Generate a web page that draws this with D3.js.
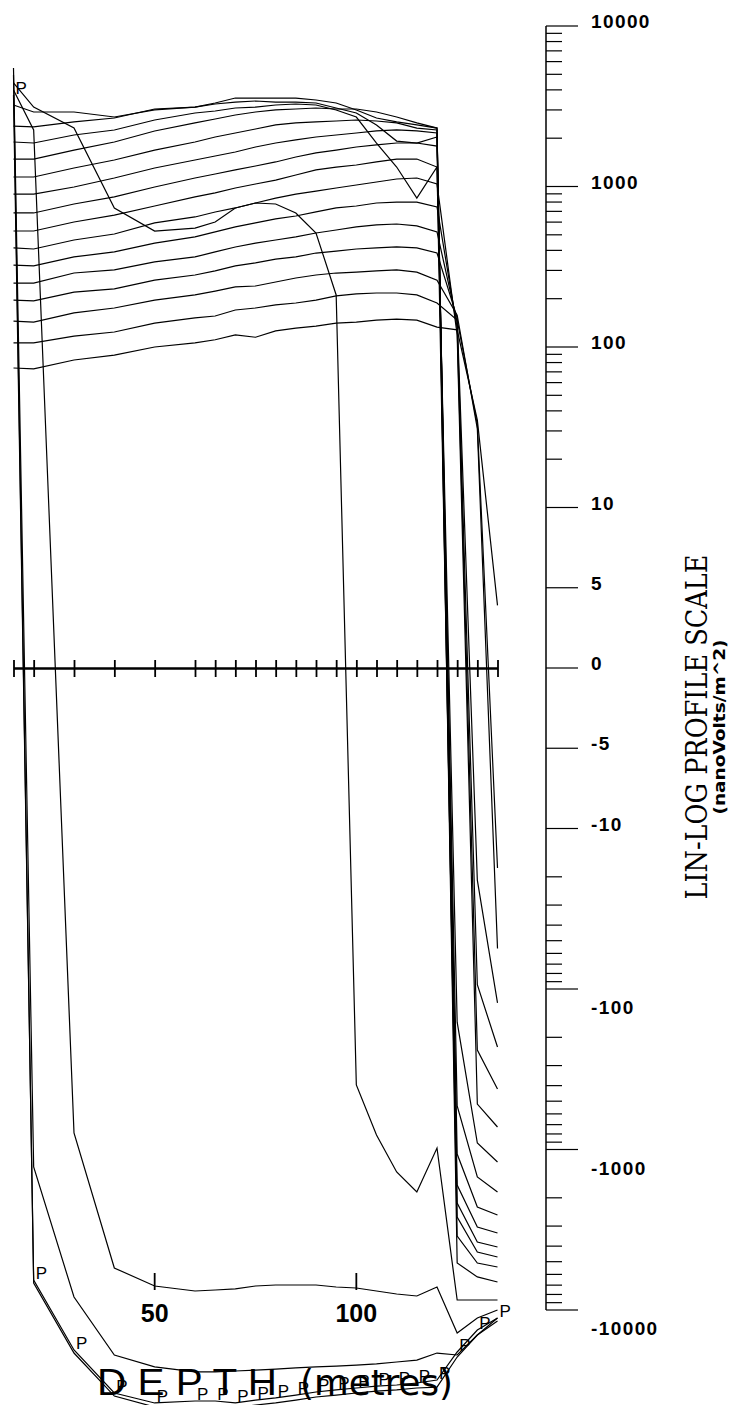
<!DOCTYPE html>
<html>
<head>
<meta charset="utf-8">
<script src="https://cdn.jsdelivr.net/npm/d3@7"></script>
<style>
  body { margin: 0; background: #fff; }
  svg { display: block; }
</style>
</head>
<body>
<svg id="chart" width="730" height="1405"></svg>
<script>
// station depths (metres) along the profile
const stations = [15, 20, 30, 40, 50, 60, 65, 70, 75, 80, 85, 90, 95, 100, 105, 110, 115, 120, 125, 130, 135];

// channel profiles, nanoVolts/m^2, one value per station
const ch01 = [74, 73, 83, 89, 100, 106, 111, 119, 115, 126, 131, 135, 141, 143, 147, 149, 147, 133, 128, 35, 3.9];
const ch02 = [106, 106, 117, 124, 141, 152, 156, 170, 175, 183, 188, 196, 208, 214, 217, 217, 211, 188, 147, 33, -17.6];
const ch03 = [145, 143, 163, 175, 196, 211, 223, 237, 240, 254, 269, 281, 289, 293, 298, 302, 293, 261, 158, 31, -56];
const ch04 = [196, 194, 220, 230, 261, 281, 298, 320, 334, 353, 364, 385, 396, 408, 414, 420, 414, 385, 152, -21, -122];
const ch05 = [250, 250, 289, 302, 339, 364, 391, 420, 444, 464, 485, 513, 536, 560, 576, 584, 568, 521, 143, -94, -230];
const ch06 = [324, 320, 364, 391, 444, 485, 521, 560, 593, 628, 655, 694, 735, 756, 789, 800, 800, 745, 131, -240, -420];
const ch07 = [414, 408, 464, 506, 593, 646, 694, 735, 789, 847, 897, 937, 979, 1022, 1067, 1114, 1130, 1037, 119, -521, -724];
const ch08 = [528, 528, 601, 664, 756, 861, 912, 979, 1037, 1097, 1180, 1268, 1322, 1361, 1422, 1483, 1483, 1322, -161, -911, -1196];
const ch09 = [684, 684, 778, 861, 993, 1130, 1196, 1268, 1342, 1422, 1527, 1618, 1687, 1762, 1815, 1866, 1866, 1787, -536, -1483, -1840];
const ch10 = [897, 897, 993, 1130, 1304, 1462, 1549, 1641, 1762, 1866, 1950, 2034, 2094, 2155, 2218, 2250, 2218, 2155, -1067, -2282, -2558];
const ch11 = [1146, 1146, 1304, 1462, 1687, 1893, 2034, 2155, 2282, 2418, 2489, 2525, 2560, 2596, 2560, 2489, 2313, 2250, -1665, -3040, -3313];
const ch12 = [1483, 1483, 1687, 1893, 2218, 2489, 2634, 2788, 2912, 2998, 3040, 3083, 3040, 3040, 2912, 2710, 2489, 2313, -2155, -3770, -4050];
const ch13 = [1893, 1866, 2094, 2250, 2596, 2870, 2953, 3083, 3127, 3219, 3265, 3219, 2998, 2710, 1866, 1322, 847, 1322, -2634, -4351, -4677];
const ch14 = [2381, 2350, 2525, 2672, 3040, 3127, 3265, 3358, 3410, 3358, 3358, 3313, 3083, 2870, 2418, 1919, 1866, 2034, -3460, -5095, -5395];
const ch15 = [3219, 2912, 2912, 2710, 2998, 3127, 3313, 3558, 3558, 3558, 3558, 3460, 3313, 2998, 2672, 2525, 2418, 2313, -5095, -6223, -6692];
const ch16 = [4416, 3127, 2313, 735, 528, 551, 601, 735, 789, 778, 684, 513, 211, -396, -812, -1380, -1840, -979, -8665, -8665, -8665];
const ch17 = [3993, 2250, -789, -5475, -7087, -7614, -7505, -7395, -7087, -6985, -6985, -6985, -7190, -7295, -7614, -7950, -8180, -7190, -13900, -11220, -10000];
const ch18 = [5475, -1285, -8300, -19070, -22630, -24320, -24320, -23990, -23660, -23340, -22970, -22630, -22340, -22030, -21690, -21090, -20510, -18540, -19070, -14320, -11220];
const ch19 = [4955, -6790, -18540, -34360, -40200, -42000, -42000, -40800, -39080, -37950, -36390, -34830, -33870, -32890, -31990, -31490, -30610, -30200, -19630, -14320, -11720];
const chP = [3715, -6500, -17740, -32890, -37950, -36900, -36900, -37950, -36390, -35320, -33870, -32440, -31490, -30610, -29770, -29330, -28510, -27300, -18260, -13330, -11220];

const profiles = [ch01, ch02, ch03, ch04, ch05, ch06, ch07, ch08, ch09, ch10,
  ch11, ch12, ch13, ch14, ch15, ch16, ch17, ch18, ch19, chP];

// scale labels and depth labels
const scaleTicks = [10000, 1000, 100, 10, 5, 0, -5, -10, -100, -1000, -10000];
const minorMults = [2, 3, 4, 5, 6, 7, 8, 9];
const minorDecades = [10, 100, 1000];
const depthTicks = [50, 100];

const svg = d3.select("#chart");

// lin-log transform: linear inside +-10, log10 outside
function linlog(v) {
  const a = Math.abs(v);
  return a <= 10 ? v / 10 : Math.sign(v) * Math.log10(a);
}
const yLin = d3.scaleLinear().domain([-4, 4]).range([1310, 26]);
const y = v => yLin(linlog(v));
const x = d3.scaleLinear().domain([15, 135]).range([13.5, 497.5]);

// profiles
const line = d3.line()
  .x((d, i) => x(stations[i]))
  .y(d => y(d));

svg.append("g")
  .selectAll("path")
  .data(profiles)
  .join("path")
  .attr("d", line)
  .attr("fill", "none")
  .attr("stroke", "#000")
  .attr("stroke-width", 1.2)
  .attr("stroke-linejoin", "miter");

// P markers on the first channel
svg.append("g")
  .selectAll("text")
  .data(chP)
  .join("text")
  .attr("x", (d, i) => x(stations[i]) + 2)
  .attr("y", d => y(d) - 1)
  .attr("font-family", "Liberation Sans, Arial, sans-serif")
  .attr("font-size", 17)
  .attr("fill", "#000")
  .text("P");

// zero line with station ticks crossing it
const y0 = y(0);
const zeroG = svg.append("g").attr("transform", `translate(0,${y0})`);
zeroG.call(d3.axisBottom(x).tickValues(stations).tickSize(9).tickSizeOuter(0).tickFormat(""));
zeroG.append("g").call(d3.axisTop(x).tickValues(stations).tickSize(8).tickSizeOuter(0).tickFormat(""));
zeroG.selectAll("path, line").attr("stroke", "#000").attr("stroke-width", 1.8);

// depth labels near the bottom
const depthG = svg.append("g");
depthG.selectAll("line")
  .data(depthTicks)
  .join("line")
  .attr("x1", d => x(d)).attr("x2", d => x(d))
  .attr("y1", 1273).attr("y2", 1290)
  .attr("stroke", "#000").attr("stroke-width", 1.8);
depthG.selectAll("text")
  .data(depthTicks)
  .join("text")
  .attr("x", d => x(d))
  .attr("y", 1322)
  .attr("text-anchor", "middle")
  .attr("font-family", "Liberation Sans, Arial, sans-serif")
  .attr("font-weight", "bold")
  .attr("font-size", 25)
  .text(d => d);

// lin-log scale on the right
const axisX = 546;
const scaleG = svg.append("g");
scaleG.append("line")
  .attr("x1", axisX).attr("x2", axisX)
  .attr("y1", y(10000)).attr("y2", y(-10000))
  .attr("stroke", "#000").attr("stroke-width", 1.5);

let minorTicks = [];
minorDecades.forEach(dec => minorMults.forEach(m => { minorTicks.push(m * dec); minorTicks.push(-m * dec); }));

scaleG.selectAll("line.minor")
  .data(minorTicks)
  .join("line")
  .attr("class", "minor")
  .attr("x1", axisX).attr("x2", axisX + 16)
  .attr("y1", d => y(d)).attr("y2", d => y(d))
  .attr("stroke", "#000").attr("stroke-width", 1.2);

scaleG.selectAll("line.major")
  .data(scaleTicks)
  .join("line")
  .attr("class", "major")
  .attr("x1", axisX).attr("x2", axisX + 32)
  .attr("y1", d => y(d)).attr("y2", d => y(d))
  .attr("stroke", "#000").attr("stroke-width", 1.2);

scaleG.selectAll("text")
  .data(scaleTicks)
  .join("text")
  .attr("x", 591)
  .attr("y", d => d <= -100 ? y(d) + 25 : y(d) + 2)
  .attr("font-family", "Liberation Sans, Arial, sans-serif")
  .attr("font-weight", "bold")
  .attr("font-size", 19)
  .attr("letter-spacing", 1.4)
  .text(d => d);

// titles
svg.append("text")
  .attr("transform", "translate(707,727) rotate(-90)")
  .attr("text-anchor", "middle")
  .attr("font-family", "DejaVu Serif, serif")
  .attr("font-size", 29)
  .attr("textLength", 345)
  .attr("lengthAdjust", "spacingAndGlyphs")
  .text("LIN-LOG PROFILE SCALE");

svg.append("text")
  .attr("transform", "translate(725,727) rotate(-90)")
  .attr("text-anchor", "middle")
  .attr("font-family", "DejaVu Sans, sans-serif")
  .attr("font-weight", "bold")
  .attr("font-size", 16)
  .attr("textLength", 175)
  .attr("lengthAdjust", "spacingAndGlyphs")
  .text("(nanoVolts/m^2)");

svg.append("text")
  .attr("x", 97).attr("y", 1395)
  .attr("font-family", "Liberation Sans, Arial, sans-serif")
  .attr("font-size", 36)
  .attr("textLength", 180)
  .attr("lengthAdjust", "spacingAndGlyphs")
  .text("D E P T H");

svg.append("text")
  .attr("x", 300).attr("y", 1395)
  .attr("font-family", "DejaVu Sans, sans-serif")
  .attr("font-size", 36)
  .attr("textLength", 153)
  .attr("lengthAdjust", "spacingAndGlyphs")
  .text("(metres)");
</script>
</body>
</html>
